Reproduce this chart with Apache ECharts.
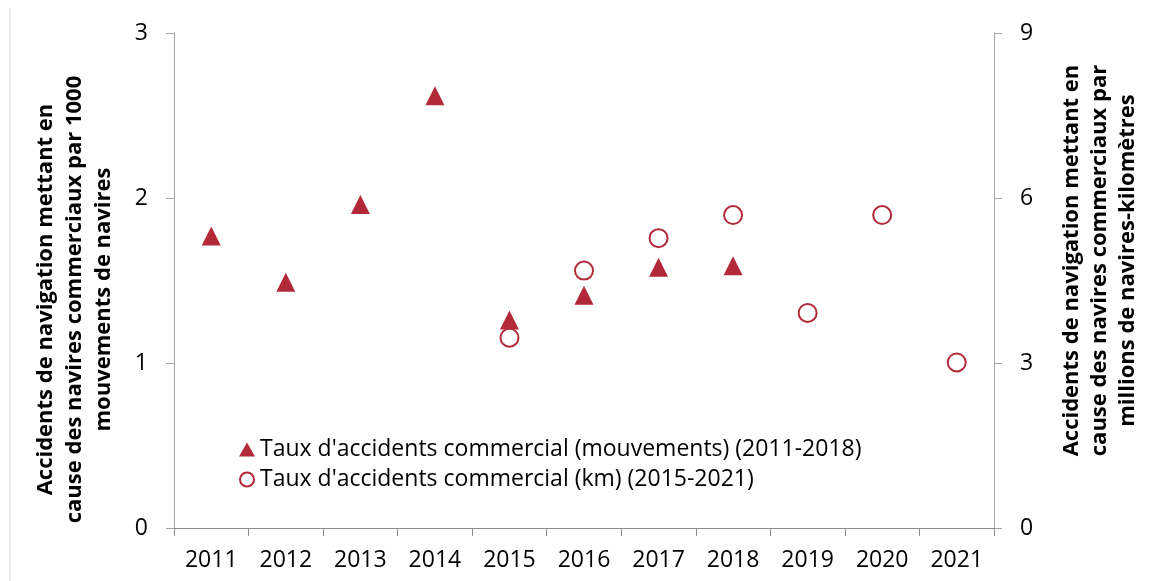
<!DOCTYPE html>
<html>
<head>
<meta charset="utf-8">
<script src="https://cdn.jsdelivr.net/npm/echarts@6/dist/echarts.min.js"></script>
<style>
  html, body { margin: 0; padding: 0; background: #fff; }
  #main { width: 1150px; height: 581px; }
</style>
</head>
<body>
<div id="main"></div>
<script>
// données
const annees = ['2011', '2012', '2013', '2014', '2015', '2016', '2017', '2018', '2019', '2020', '2021'];
const tauxMouvements = [1.77, 1.49, 1.96, 2.62, 1.26, 1.41, 1.58, 1.59, null, null, null];
const tauxKm = [null, null, null, null, 3.46, 4.68, 5.27, 5.69, 3.91, 5.69, 3.01];
const nomMouvements = "Taux d'accidents commercial (mouvements) (2011-2018)";
const nomKm = "Taux d'accidents commercial (km) (2015-2021)";

const rouge = '#b22a3a';
const police = '"Open Sans", "Noto Sans", sans-serif';

const chart = echarts.init(document.getElementById('main'));

const option = {
  backgroundColor: '#fff',
  animation: false,
  textStyle: { fontFamily: police, color: '#000' },
  grid: { left: 174, right: 151, top: 33, bottom: 53 },
  graphic: [{
    type: 'line',
    shape: { x1: 10, y1: 8, x2: 10, y2: 581 },
    style: { stroke: '#d9d9d9', lineWidth: 1 }
  }],
  legend: {
    orient: 'vertical',
    left: 234,
    top: 433,
    itemWidth: 16,
    itemHeight: 14,
    itemGap: 7,
    textStyle: { fontFamily: police, fontSize: 23, color: '#000' },
    data: [
      { name: nomMouvements, icon: 'triangle' },
      { name: nomKm, icon: 'circle' }
    ]
  },
  xAxis: {
    type: 'category',
    data: annees,
    boundaryGap: true,
    axisLine: { lineStyle: { color: '#8c8c8c' } },
    axisTick: { show: true, length: 8, alignWithLabel: false, lineStyle: { color: '#8c8c8c' } },
    axisLabel: { fontFamily: police, fontSize: 23, color: '#000', margin: 21 },
    splitLine: { show: false }
  },
  yAxis: [{
    type: 'value',
    min: 0, max: 3, interval: 1,
    position: 'left',
    name: "Accidents de navigation mettant en\ncause des navires commerciaux par 1000\nmouvements de navires",
    nameLocation: 'middle',
    nameRotate: 90,
    nameGap: 56,
    nameTextStyle: { fontFamily: police, fontSize: 22, fontWeight: 'bold', color: '#000', lineHeight: 29, align: 'center', padding: [0, 38, 0, 0] },
    axisLine: { show: true, lineStyle: { color: '#a6a6a6' } },
    axisTick: { show: true, length: 8, lineStyle: { color: '#a6a6a6' } },
    axisLabel: { fontFamily: police, fontSize: 23, color: '#000', margin: 26 },
    splitLine: { show: false }
  }, {
    type: 'value',
    min: 0, max: 9, interval: 3,
    position: 'right',
    name: "Accidents de navigation mettant en\ncause des navires commerciaux par\nmillions de navires-kilomètres",
    nameLocation: 'middle',
    nameRotate: 90,
    nameGap: 64,
    nameTextStyle: { fontFamily: police, fontSize: 22, fontWeight: 'bold', color: '#000', lineHeight: 28, align: 'center', padding: [0, 0, 0, 40] },
    axisLine: { show: true, lineStyle: { color: '#a6a6a6' } },
    axisTick: { show: true, length: 8, lineStyle: { color: '#a6a6a6' } },
    axisLabel: { fontFamily: police, fontSize: 23, color: '#000', margin: 26 },
    splitLine: { show: false }
  }],
  series: [{
    name: nomMouvements,
    type: 'scatter',
    yAxisIndex: 0,
    symbol: 'triangle',
    symbolSize: 19,
    itemStyle: { color: rouge, opacity: 1 },
    data: tauxMouvements
  }, {
    name: nomKm,
    type: 'scatter',
    yAxisIndex: 1,
    symbol: 'circle',
    symbolSize: 18,
    itemStyle: { color: '#fff', borderColor: rouge, borderWidth: 2, opacity: 1 },
    data: tauxKm
  }]
};

chart.setOption(option);
</script>
</body>
</html>
